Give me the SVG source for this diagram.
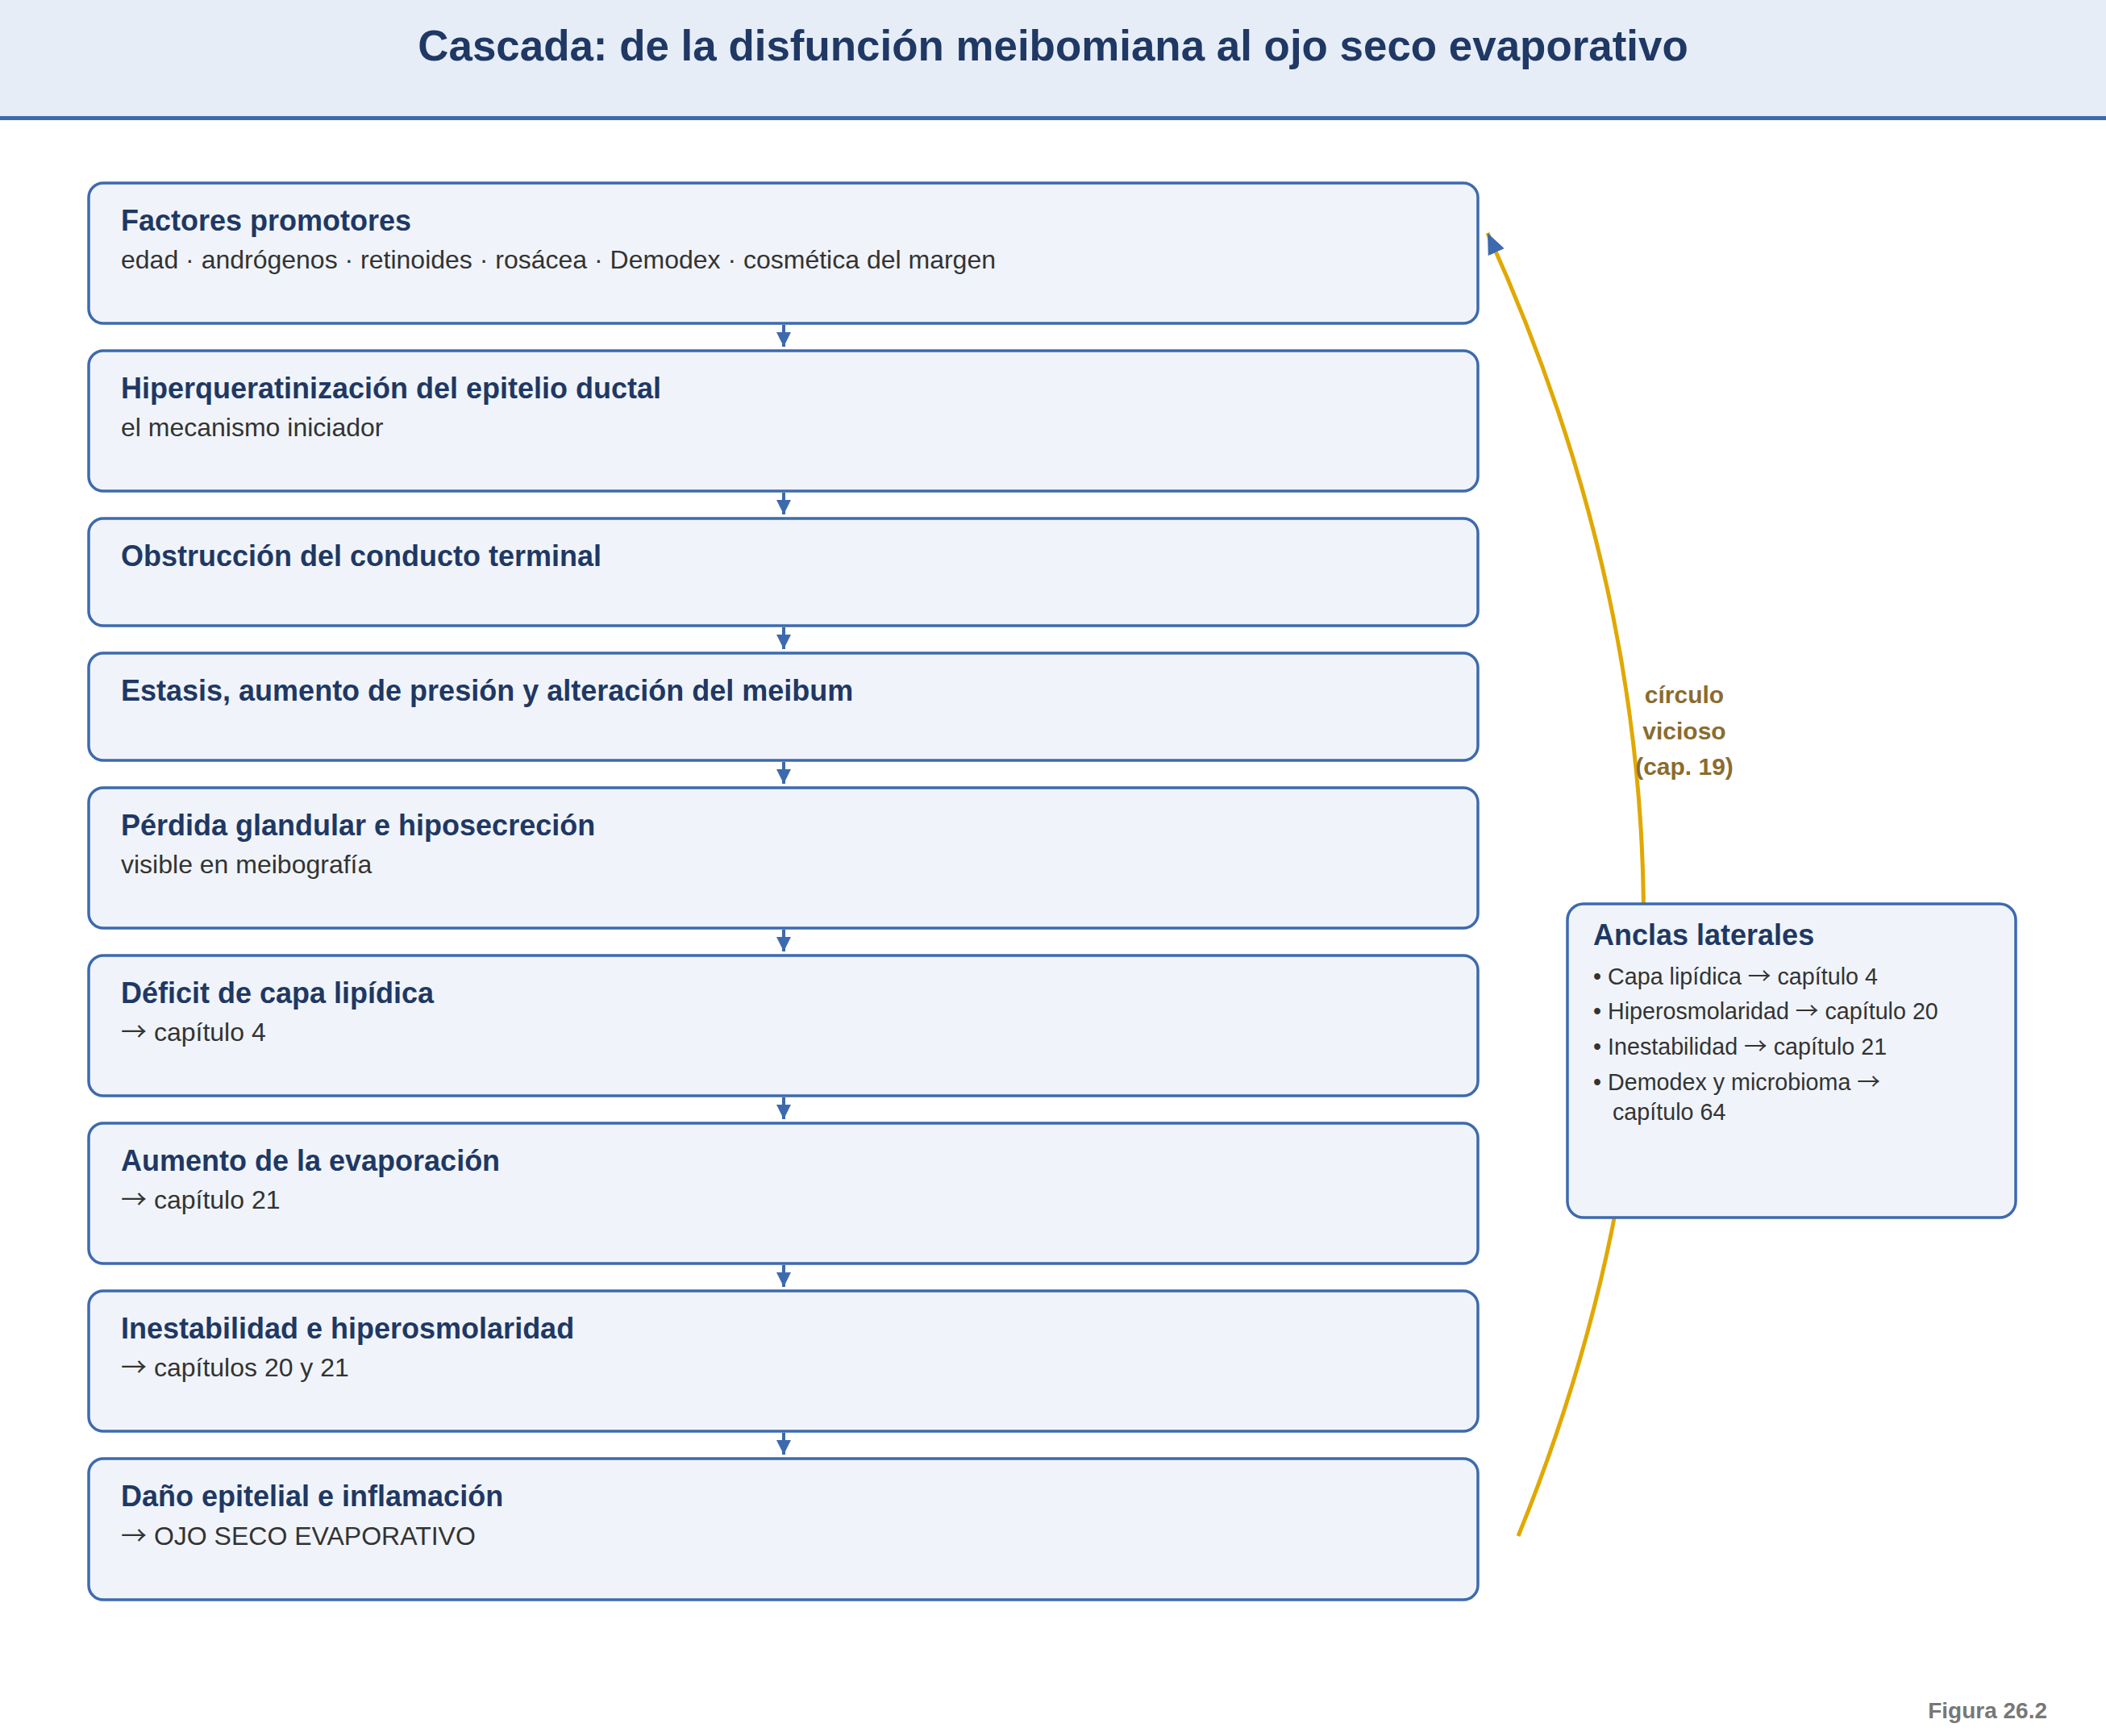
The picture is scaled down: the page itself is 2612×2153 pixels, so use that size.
<svg xmlns="http://www.w3.org/2000/svg" width="2612" height="2153" viewBox="0 0 2612 2153">
<style>
text{font-family:"Liberation Sans",Arial,Helvetica,sans-serif}
.ar{font-family:"Noto Sans CJK SC",sans-serif}
.box{fill:#f0f4fa;stroke:#3d6aae;stroke-width:3.5}
.t{font-size:36px;font-weight:bold;fill:#1f3864}
.s{font-size:32px;fill:#333333}
.b{font-size:28.7px;fill:#333333}
.lbl{font-size:30px;font-weight:bold;fill:#8b6b2e;text-anchor:middle}
.down{stroke:#3d6aae;stroke-width:4;fill:none;marker-end:url(#ah)}
</style>
<defs>
<marker id="ah" markerUnits="userSpaceOnUse" markerWidth="18" markerHeight="18" refX="18" refY="9" orient="auto"><path d="M0,0 L18,9 L0,18 z" fill="#3d6aae"/></marker>
<marker id="ah2" markerUnits="userSpaceOnUse" markerWidth="26" markerHeight="22" refX="26" refY="11" orient="auto"><path d="M0,0 L26,11 L0,22 z" fill="#3d6aae"/></marker>
</defs>
<rect x="0" y="0" width="2612" height="2153" fill="#ffffff"/>
<g id="header">
<rect x="0" y="0" width="2612" height="144" fill="#e6edf7"/>
<line x1="0" y1="146.5" x2="2612" y2="146.5" stroke="#3d6aae" stroke-width="5"/>
<text x="1306" y="75" text-anchor="middle" font-size="52.9" font-weight="bold" fill="#1f3864">Cascada: de la disfunción meibomiana al ojo seco evaporativo</text>
</g>
<g id="connectors">
<path d="M1883,1905 Q2212,1097 1845,289" fill="none" stroke="#e1a800" stroke-width="5" marker-end="url(#ah2)"/>
<line class="down" x1="972" y1="403" x2="972" y2="430"/>
<line class="down" x1="972" y1="611" x2="972" y2="638"/>
<line class="down" x1="972" y1="778" x2="972" y2="805"/>
<line class="down" x1="972" y1="945" x2="972" y2="972"/>
<line class="down" x1="972" y1="1153" x2="972" y2="1180"/>
<line class="down" x1="972" y1="1361" x2="972" y2="1388"/>
<line class="down" x1="972" y1="1569" x2="972" y2="1596"/>
<line class="down" x1="972" y1="1777" x2="972" y2="1804"/>
<text class="lbl" x="2089" y="872">círculo</text>
<text class="lbl" x="2089" y="917">vicioso</text>
<text class="lbl" x="2089" y="961">(cap. 19)</text>
</g>
<g id="n1"><rect class="box" x="110" y="227" width="1723" height="174" rx="18"/><text class="t" x="150" y="286">Factores promotores</text><text class="s" x="150" y="333">edad · andrógenos · retinoides · rosácea · Demodex · cosmética del margen</text></g>
<g id="n2"><rect class="box" x="110" y="435" width="1723" height="174" rx="18"/><text class="t" x="150" y="494">Hiperqueratinización del epitelio ductal</text><text class="s" x="150" y="541">el mecanismo iniciador</text></g>
<g id="n3"><rect class="box" x="110" y="643" width="1723" height="133" rx="18"/><text class="t" x="150" y="702">Obstrucción del conducto terminal</text></g>
<g id="n4"><rect class="box" x="110" y="810" width="1723" height="133" rx="18"/><text class="t" x="150" y="869">Estasis, aumento de presión y alteración del meibum</text></g>
<g id="n5"><rect class="box" x="110" y="977" width="1723" height="174" rx="18"/><text class="t" x="150" y="1036">Pérdida glandular e hiposecreción</text><text class="s" x="150" y="1083">visible en meibografía</text></g>
<g id="n6"><rect class="box" x="110" y="1185" width="1723" height="174" rx="18"/><text class="t" x="150" y="1244">Déficit de capa lipídica</text><text class="s" x="150" y="1291"><tspan class="ar">→</tspan> capítulo 4</text></g>
<g id="n7"><rect class="box" x="110" y="1393" width="1723" height="174" rx="18"/><text class="t" x="150" y="1452">Aumento de la evaporación</text><text class="s" x="150" y="1499"><tspan class="ar">→</tspan> capítulo 21</text></g>
<g id="n8"><rect class="box" x="110" y="1601" width="1723" height="174" rx="18"/><text class="t" x="150" y="1660">Inestabilidad e hiperosmolaridad</text><text class="s" x="150" y="1707"><tspan class="ar">→</tspan> capítulos 20 y 21</text></g>
<g id="n9"><rect class="box" x="110" y="1809" width="1723" height="175" rx="18"/><text class="t" x="150" y="1868">Daño epitelial e inflamación</text><text class="s" x="150" y="1916"><tspan class="ar">→</tspan> OJO SECO EVAPORATIVO</text></g>
<g id="anclas"><rect class="box" x="1944" y="1121" width="556" height="389" rx="20"/><text class="t" x="1976" y="1172">Anclas laterales</text>
<text class="b" x="1976" y="1221">• Capa lipídica <tspan class="ar">→</tspan> capítulo 4</text>
<text class="b" x="1976" y="1264">• Hiperosmolaridad <tspan class="ar">→</tspan> capítulo 20</text>
<text class="b" x="1976" y="1308">• Inestabilidad <tspan class="ar">→</tspan> capítulo 21</text>
<text class="b" x="1976" y="1352">• Demodex y microbioma <tspan class="ar">→</tspan></text>
<text class="b" x="2000" y="1389">capítulo 64</text></g>
<g id="footer"><text x="2539" y="2131" text-anchor="end" font-size="28" font-weight="bold" fill="#777777">Figura 26.2</text></g>
</svg>
